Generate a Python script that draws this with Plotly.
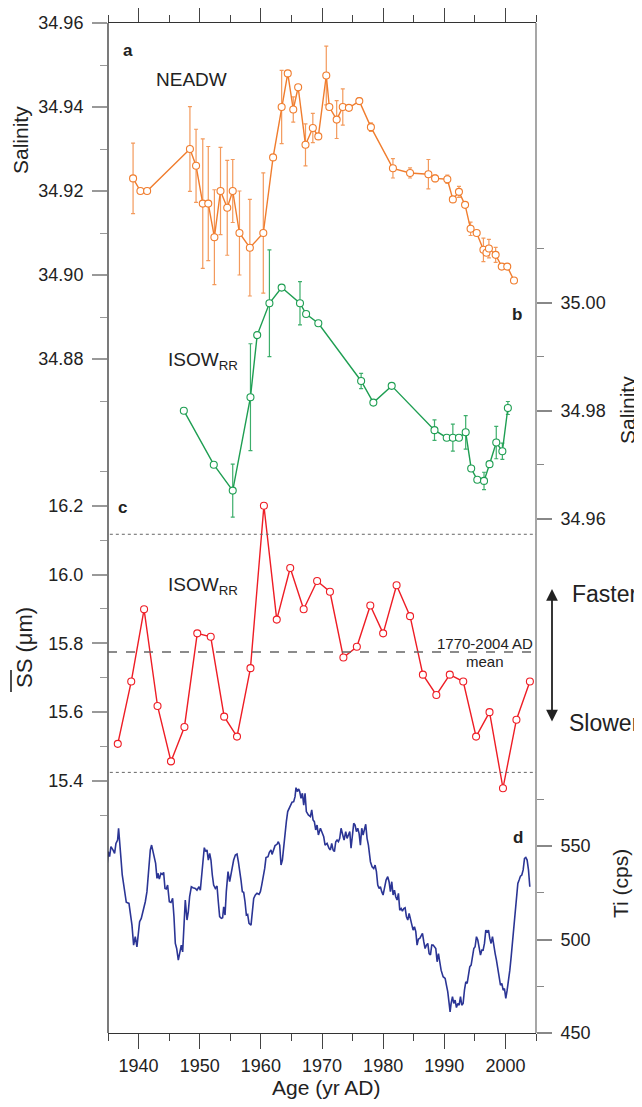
import plotly.graph_objects as go

# --- data ---
# a: NEADW salinity (left axis, top)
years_a = [1939.1, 1940.3, 1941.4, 1948.4, 1949.4, 1950.5, 1951.4, 1952.4, 1953.4, 1954.5,
           1955.4, 1956.5, 1958.2, 1960.4, 1962.0, 1963.4, 1964.4, 1965.3, 1966.1, 1967.3,
           1968.5, 1969.4, 1970.7, 1971.2, 1972.4, 1973.4, 1974.4, 1976.1, 1978.0, 1981.6,
           1984.4, 1987.4, 1988.5, 1990.5, 1991.4, 1992.4, 1993.4, 1994.3, 1995.3, 1996.4,
           1996.9, 1997.3, 1998.4, 1999.4, 2000.3, 2001.4]
sal_a = [34.923, 34.920, 34.920, 34.930, 34.926, 34.917, 34.917, 34.909, 34.920, 34.916,
         34.920, 34.910, 34.9065, 34.910, 34.928, 34.940, 34.948, 34.9394, 34.9447, 34.931,
         34.935, 34.933, 34.9475, 34.940, 34.937, 34.940, 34.9398, 34.9414, 34.9352, 34.9254,
         34.9243, 34.924, 34.923, 34.9228, 34.918, 34.9198, 34.9167, 34.911, 34.910, 34.906,
         34.9053, 34.9063, 34.9048, 34.902, 34.902, 34.8987]
err_a = [0.0084, 0, 0, 0.0101, 0.0087, 0.0154, 0.0136, 0.0113, 0.0104, 0.0113,
         0.0075, 0.0100, 0.0115, 0.0143, 0, 0.0087, 0, 0.0030, 0, 0.0050,
         0.0035, 0, 0.0070, 0, 0.0045, 0.0043, 0, 0.0008, 0.0010, 0.0023,
         0.0012, 0.0035, 0.0008, 0.0010, 0, 0.0013, 0, 0.0016, 0, 0.0028,
         0, 0.0022, 0.0018, 0, 0, 0]

# b: ISOW_RR salinity (right axis)
years_b = [1947.4, 1952.3, 1955.4, 1958.3, 1959.4, 1961.4, 1963.4, 1966.4, 1967.4, 1969.4,
           1976.4, 1978.4, 1981.4, 1988.4, 1990.4, 1991.4, 1992.4, 1993.5, 1994.4, 1995.4,
           1996.5, 1997.4, 1998.5, 1999.5, 2000.4]
sal_b = [34.980, 34.970, 34.9652, 34.9825, 34.994, 34.9999, 35.0028, 34.9999, 34.9979, 34.9962,
         34.9855, 34.9815, 34.9846, 34.9764, 34.975, 34.975, 34.975, 34.976, 34.9693, 34.9672,
         34.967, 34.9701, 34.9741, 34.9725, 34.9805]
err_b = [0, 0, 0.0049, 0.0099, 0, 0.0099, 0, 0.0040, 0, 0,
         0.0014, 0, 0, 0.0019, 0, 0.0025, 0, 0.0031, 0, 0,
         0.0016, 0, 0.0030, 0.0015, 0.0012]

# c: sortable silt mean grain size
years_c = [1936.6, 1938.8, 1940.9, 1943.1, 1945.3, 1947.5, 1949.6, 1951.8, 1954.0, 1956.1,
           1958.3, 1960.5, 1962.6, 1964.8, 1967.0, 1969.2, 1971.3, 1973.5, 1975.7, 1977.9,
           1980.0, 1982.2, 1984.4, 1986.5, 1988.7, 1990.9, 1993.1, 1995.2, 1997.4, 1999.6,
           2001.8, 2004.0]
ss_c = [15.508, 15.689, 15.899, 15.618, 15.457, 15.557, 15.829, 15.819, 15.587, 15.529,
        15.728, 16.200, 15.869, 16.019, 15.899, 15.981, 15.950, 15.759, 15.790, 15.910,
        15.829, 15.969, 15.879, 15.709, 15.650, 15.709, 15.689, 15.529, 15.600, 15.379,
        15.578, 15.689]
ss_mean = 15.775
ss_upper = 16.117
ss_lower = 15.425

# d: Ti counts
years_d = [1934.72, 1935.04, 1935.26, 1935.48, 1935.81, 1936.08, 1936.30, 1936.57, 1936.73, 1936.90,
           1937.12, 1937.33, 1937.66, 1937.99, 1938.43, 1938.64, 1938.92, 1939.19, 1939.46, 1939.73,
           1939.95, 1940.17, 1940.44, 1940.72, 1941.10, 1941.37, 1941.64, 1941.92, 1942.13, 1942.46,
           1942.79, 1943.01, 1943.17, 1943.39, 1943.66, 1943.88, 1944.10, 1944.32, 1944.53, 1944.75,
           1945.03, 1945.30, 1945.57, 1945.79, 1946.01, 1946.23, 1946.50, 1946.77, 1946.99, 1947.21,
           1947.43, 1947.64, 1947.92, 1948.13, 1948.35, 1948.63, 1948.90, 1949.28, 1949.55, 1949.88,
           1950.10, 1950.32, 1950.53, 1950.75, 1950.97, 1951.19, 1951.41, 1951.63, 1951.84, 1952.06,
           1952.28, 1952.55, 1952.83, 1953.04, 1953.26, 1953.54, 1953.75, 1953.92, 1954.14, 1954.35,
           1954.63, 1954.90, 1955.06, 1955.34, 1955.55, 1955.83, 1956.10, 1956.32, 1956.54, 1956.75,
           1956.97, 1957.19, 1957.41, 1957.63, 1957.84, 1958.06, 1958.39, 1958.61, 1958.83, 1959.10,
           1959.37, 1959.70, 1959.92, 1960.14, 1960.35, 1960.63, 1960.84, 1961.17, 1961.39, 1961.66,
           1961.83, 1962.10, 1962.32, 1962.64, 1962.86, 1963.08, 1963.30, 1963.52, 1963.74, 1963.95,
           1964.17, 1964.39, 1964.61, 1964.83, 1965.10, 1965.37, 1965.59, 1965.75, 1965.97, 1966.19,
           1966.35, 1966.57, 1966.79, 1967.01, 1967.23, 1967.44, 1967.77, 1968.10, 1968.32, 1968.54,
           1968.75, 1968.97, 1969.19, 1969.41, 1969.74, 1970.06, 1970.28, 1970.50, 1970.83, 1971.15,
           1971.37, 1971.59, 1971.81, 1972.03, 1972.25, 1972.46, 1972.68, 1972.90, 1973.12, 1973.39,
           1973.61, 1973.88, 1974.10, 1974.32, 1974.54, 1974.75, 1974.97, 1975.19, 1975.41, 1975.63,
           1975.85, 1976.06, 1976.28, 1976.50, 1976.72, 1976.94, 1977.15, 1977.37, 1977.59, 1977.92,
           1978.19, 1978.46, 1978.68, 1978.90, 1979.12, 1979.34, 1979.55, 1979.77, 1979.99, 1980.21,
           1980.48, 1980.75, 1980.97, 1981.19, 1981.41, 1981.63, 1981.85, 1982.06, 1982.28, 1982.50,
           1982.72, 1982.94, 1983.15, 1983.37, 1983.59, 1983.81, 1984.03, 1984.25, 1984.46, 1984.68,
           1984.90, 1985.12, 1985.34, 1985.55, 1985.77, 1985.99, 1986.21, 1986.43, 1986.65, 1986.86,
           1987.08, 1987.30, 1987.52, 1987.74, 1987.95, 1988.17, 1988.39, 1988.61, 1988.83, 1989.05,
           1989.26, 1989.48, 1989.81, 1990.14, 1990.35, 1990.57, 1990.79, 1990.95, 1991.12, 1991.34,
           1991.55, 1991.77, 1991.99, 1992.21, 1992.43, 1992.65, 1992.86, 1993.08, 1993.30, 1993.52,
           1993.74, 1993.95, 1994.17, 1994.39, 1994.61, 1994.83, 1995.04, 1995.26, 1995.48, 1995.70,
           1995.92, 1996.14, 1996.35, 1996.57, 1996.79, 1997.01, 1997.23, 1997.44, 1997.66, 1997.88,
           1998.10, 1998.32, 1998.53, 1998.75, 1998.97, 1999.19, 1999.41, 1999.63, 1999.84, 2000.06,
           2000.28, 2000.50, 2000.72, 2000.94, 2001.15, 2001.37, 2001.59, 2001.81, 2002.03, 2002.24,
           2002.46, 2002.68, 2002.90, 2003.12, 2003.33, 2003.55, 2003.77, 2003.99]
ti_d = [534.5, 547.0, 544.3, 549.7, 547.9, 546.1, 551.4, 553.2, 559.5, 554.1,
        543.4, 534.5, 527.3, 519.9, 519.3, 514.8, 507.7, 497.0, 501.5, 496.1,
        502.4, 509.5, 511.3, 514.9, 520.2, 525.6, 538.0, 547.9, 550.5, 545.2,
        540.7, 532.7, 535.4, 532.3, 535.4, 534.8, 535.9, 527.3, 527.0, 529.1,
        520.2, 519.8, 522.0, 512.2, 497.9, 495.2, 489.0, 493.4, 497.0, 493.4,
        509.5, 521.1, 510.4, 514.8, 522.9, 528.2, 527.7, 527.3, 526.4, 528.2,
        526.4, 536.3, 541.6, 549.1, 547.0, 547.9, 542.5, 546.1, 542.5, 534.5,
        529.1, 527.3, 528.6, 520.2, 512.2, 511.3, 511.6, 517.5, 513.1, 525.6,
        536.3, 530.9, 533.6, 539.8, 542.5, 545.2, 545.7, 541.6, 537.2, 531.8,
        525.6, 525.2, 520.2, 513.1, 513.4, 508.6, 507.7, 516.6, 522.0, 523.8,
        524.7, 524.1, 525.6, 529.1, 532.7, 538.0, 543.8, 544.3, 546.6, 547.9,
        545.5, 548.8, 550.2, 550.9, 552.3, 550.5, 539.8, 542.5, 550.5, 557.7,
        563.0, 568.4, 569.8, 571.9, 573.4, 573.7, 576.4, 581.2, 579.1, 580.5,
        579.1, 575.5, 578.2, 571.9, 578.2, 568.4, 566.6, 565.7, 569.3, 563.9,
        563.0, 558.6, 561.2, 555.9, 559.5, 556.8, 555.0, 550.5, 551.4, 548.8,
        547.9, 551.4, 547.9, 547.0, 552.3, 553.2, 552.3, 554.1, 559.5, 555.9,
        553.2, 557.7, 554.1, 555.9, 557.7, 548.8, 555.9, 562.1, 561.2, 557.7,
        559.5, 556.8, 550.5, 559.5, 555.9, 558.6, 561.6, 554.1, 550.5, 541.6,
        538.9, 538.0, 539.8, 536.3, 529.1, 527.3, 528.2, 525.6, 523.8, 527.3,
        531.8, 533.6, 530.9, 525.6, 530.9, 523.8, 526.4, 522.9, 521.1, 524.7,
        515.7, 516.6, 515.2, 516.6, 517.0, 512.2, 510.4, 514.0, 511.3, 507.7,
        505.0, 506.8, 504.2, 497.0, 500.2, 500.6, 502.4, 503.3, 498.8, 495.2,
        497.0, 497.9, 492.5, 491.7, 497.0, 497.0, 496.1, 495.2, 488.1, 492.5,
        488.1, 483.6, 480.1, 479.2, 475.6, 472.0, 465.8, 461.3, 465.8, 469.4,
        465.8, 467.6, 463.6, 465.8, 464.9, 469.4, 464.9, 465.8, 472.9, 477.4,
        476.5, 481.0, 485.4, 486.3, 490.8, 495.2, 496.1, 501.5, 499.7, 496.1,
        491.7, 494.3, 494.3, 497.9, 505.0, 504.1, 505.0, 500.6, 497.9, 501.5,
        496.1, 492.5, 489.0, 484.5, 479.2, 475.6, 476.5, 472.9, 473.8, 468.5,
        472.9, 477.4, 483.6, 490.8, 497.9, 506.8, 514.0, 519.3, 530.0, 531.8,
        533.9, 534.5, 537.2, 543.4, 543.9, 542.5, 537.2, 528.2]

# --- page geometry (screen pixels; the page body adds an 8 px margin) ---
BODY = 8
W_FIG, H_FIG = 642 - BODY, 1107 - 2 * BODY   # keep the page from scrolling
L, T, PW, PH = 108, 23, 428, 1010      # plot box on screen
FONT = "Liberation Sans, Arial, sans-serif"


def px(x, y):
    return (x - L) / PW, (T + PH - y) / PH


def dom(y_bottom, y_top):
    return [(T + PH - y_bottom) / PH, (T + PH - y_top) / PH]


ORANGE = "#F07D2E"
GREEN = "#1E9E52"
RED = "#EE1D25"
BLUE = "#2B3595"

fig = go.Figure()

# empty trace so the full-height base axis exists as a subplot
fig.add_trace(go.Scatter(x=[], y=[], yaxis="y", hoverinfo="skip"))

fig.add_trace(go.Scatter(
    x=years_a, y=sal_a, yaxis="y2", mode="lines+markers",
    line=dict(color=ORANGE, width=1.4),
    marker=dict(symbol="circle", size=7, color="white", line=dict(color=ORANGE, width=1.1)),
    error_y=dict(type="data", array=err_a, color="#F39A5C", thickness=1.2, width=2),
))
fig.add_trace(go.Scatter(
    x=years_b, y=sal_b, yaxis="y3", mode="lines+markers",
    line=dict(color=GREEN, width=1.4),
    marker=dict(symbol="circle", size=7, color="white", line=dict(color=GREEN, width=1.1)),
    error_y=dict(type="data", array=err_b, color="#3DAE6B", thickness=1.2, width=2),
))
fig.add_trace(go.Scatter(
    x=years_c, y=ss_c, yaxis="y4", mode="lines+markers",
    line=dict(color=RED, width=1.4),
    marker=dict(symbol="circle", size=7, color="white", line=dict(color=RED, width=1.1)),
))
fig.add_trace(go.Scatter(
    x=years_d, y=ti_d, yaxis="y5", mode="lines",
    line=dict(color=BLUE, width=1.6),
))

tickfont = dict(family=FONT, size=18, color="#222")


def yax(domain, rng, tick0, dtick, minor, fmt, side, tcol):
    return dict(domain=domain, range=rng, anchor="x", side=side, automargin=False,
                tick0=tick0, dtick=dtick, tickformat=fmt,
                ticks="outside", ticklen=15, tickwidth=1.8, tickcolor=tcol,
                minor=dict(dtick=minor, ticks="outside", ticklen=7, tickwidth=1.2, tickcolor=tcol),
                ticklabelstandoff=5, tickfont=tickfont,
                showline=False, showgrid=False, zeroline=False)


fig.update_layout(
    template="none",
    width=W_FIG, height=H_FIG,
    margin=dict(l=L - BODY, r=W_FIG - (L - BODY) - PW, t=T - BODY,
                b=H_FIG - (T - BODY) - PH, pad=0),
    paper_bgcolor="white", plot_bgcolor="rgba(0,0,0,0)",
    showlegend=False,
    font=dict(family=FONT, color="#222"),
    xaxis=dict(range=[1935, 2005], tick0=1940, dtick=10, anchor="y", automargin=False,
               ticks="outside", ticklen=15, tickwidth=1.3, tickcolor="#444",
               minor=dict(dtick=5, ticks="outside", ticklen=7, tickwidth=1.1, tickcolor="#444"),
               showline=True, linecolor="#333", linewidth=1.3, mirror="ticks",
               ticklabelstandoff=1, tickfont=tickfont,
               showgrid=False, zeroline=False),
    # full-height base axis that carries the frame (no ticks or labels of its own)
    yaxis=dict(domain=[0, 1], range=[0, 1], automargin=False, showticklabels=False,
               ticks="", showline=False, showgrid=False, zeroline=False),
    yaxis2=yax(dom(T + 0.09 * 4200, T), [34.87, 34.96], 34.88, 0.02, 0.01, ".2f", "left", "#999"),
    yaxis3=yax(dom(518.7, 248.7), [34.96, 35.01], 34.96, 0.02, 0.01, ".2f", "right", "#888"),
    yaxis4=yax(dom(815.4, 471.3), [15.3, 16.3], 15.4, 0.2, 0.1, ".1f", "left", "#999"),
    yaxis5=yax(dom(T + PH, T + PH - 135 * 1.87), [450, 585], 450, 50, 25, "d", "right", "#888"),
)

# frame sides
fig.add_shape(type="line", xref="paper", yref="paper", x0=0, x1=0, y0=0, y1=1,
              line=dict(color="#333", width=1.3))
fig.add_shape(type="line", xref="paper", yref="paper", x0=1, x1=1, y0=0, y1=1,
              line=dict(color="#777", width=1.3))

# mean and +/- lines on the grain size panel
fig.add_shape(type="line", xref="x", yref="y4", x0=1935, x1=2005, y0=ss_mean, y1=ss_mean,
              line=dict(color="#666", width=1.5, dash="dash"))
for v in (ss_upper, ss_lower):
    fig.add_shape(type="line", xref="x", yref="y4", x0=1935.3, x1=2005, y0=v, y1=v,
                  line=dict(color="#666", width=1, dash="dot"))

# overline over "SS"
ox0, oy0 = px(11, 692)
ox1, oy1 = px(11, 670)
fig.add_shape(type="line", xref="paper", yref="paper", x0=ox0, x1=ox1, y0=oy0, y1=oy1,
              line=dict(color="#222", width=1.6))


def label(text, x, y, size, angle=0, xanchor="center"):
    fx, fy = px(x, y)
    fig.add_annotation(text=text, x=fx, y=fy, xref="paper", yref="paper",
                       showarrow=False, textangle=angle, xanchor=xanchor, yanchor="middle",
                       borderpad=0, font=dict(family=FONT, size=size, color="#222"))


label("<b>a</b>", 128, 50, 17)
label("NEADW", 191, 79, 19)
label("<b>b</b>", 517, 314, 17)
label("ISOW<sub>RR</sub>", 167, 361, 19, xanchor="left")
label("<b>c</b>", 122, 507, 17)
label("ISOW<sub>RR</sub>", 167, 586, 19, xanchor="left")
label("<b>d</b>", 518, 837, 17)
label("1770-2004 AD", 485, 643, 15)
label("mean", 485, 661, 15)
label("Faster", 571, 594, 23, xanchor="left")
label("Slower", 568, 723, 23, xanchor="left")

label("Salinity", 20, 140, 21, angle=-90)
label("SS (μm)", 24, 648, 22, angle=-90)
label("Salinity", 627, 410, 21, angle=-90)
label("Ti (cps)", 620, 884, 21, angle=-90)
label("Age (yr AD)", 326, 1087, 21)

# double arrow faster / slower
ax_, ay_ = px(552, 589)
fig.add_annotation(x=ax_, y=ay_, xref="paper", yref="paper", text="",
                   showarrow=True, ax=0, ay=134, axref="pixel", ayref="pixel",
                   arrowhead=2, arrowside="end+start", arrowsize=1.3, arrowwidth=1.8,
                   arrowcolor="#222")

fig.write_html("out.html")
